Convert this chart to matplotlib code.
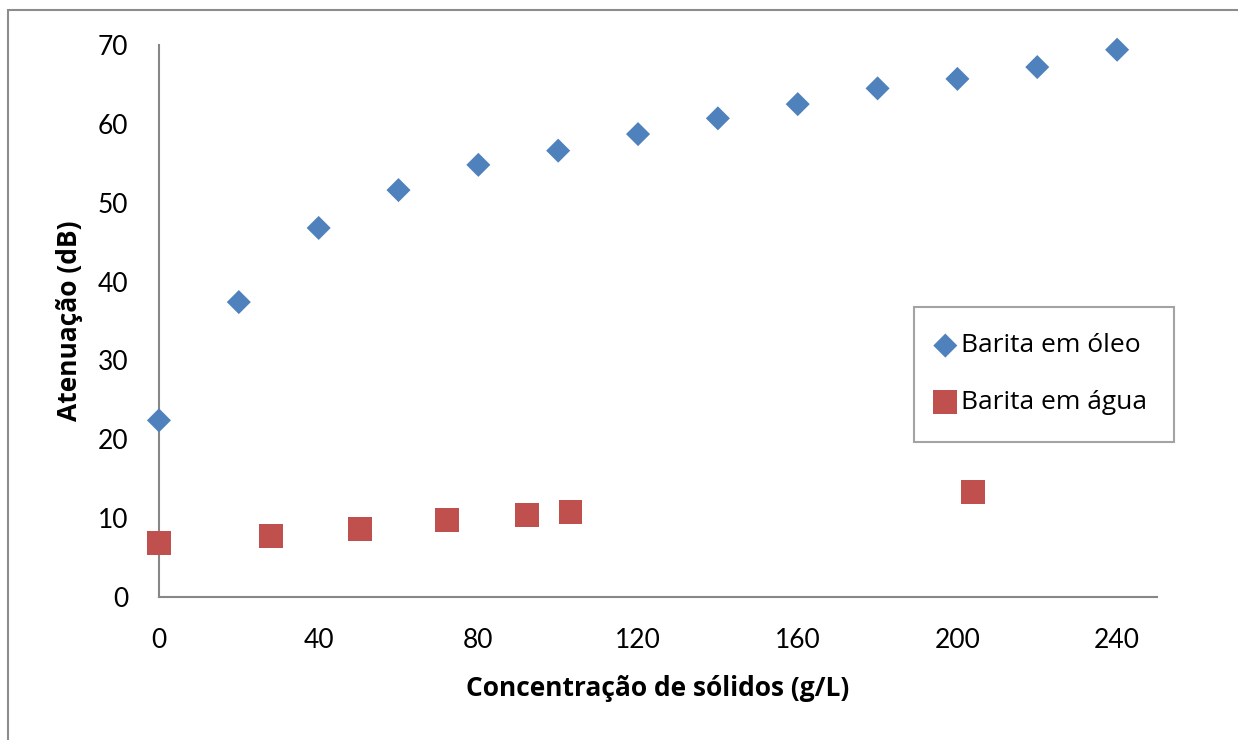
import matplotlib.pyplot as plt
from matplotlib.patches import Rectangle

# Attenuation vs solids concentration
conc_oleo = [0, 20, 40, 60, 80, 100, 120, 140, 160, 180, 200, 220, 240]
aten_oleo = [22.4, 37.4, 46.8, 51.6, 54.8, 56.6, 58.7, 60.7, 62.5, 64.5, 65.7, 67.2, 69.4]

conc_agua = [0, 28, 50.4, 72.2, 92.2, 103.1, 203.8]
aten_agua = [6.9, 7.7, 8.6, 9.8, 10.4, 10.8, 13.3]

x_ticks = [0, 40, 80, 120, 160, 200, 240]
y_ticks = [0, 10, 20, 30, 40, 50, 60, 70]

plt.rcParams['font.family'] = ['Lato', 'DejaVu Sans']
label_font = ['Open Sans', 'DejaVu Sans']

fig = plt.figure(figsize=(12.38, 7.40), dpi=100)
ax = fig.add_axes([0.1284, 0.1932, 0.8062, 0.746])

# outer chart frame
fig.patches.append(Rectangle((0.0065, -0.05), 1.1, 1.036, transform=fig.transFigure,
                             fill=False, edgecolor='#8c8c8c', linewidth=1.5))

ax.scatter(conc_oleo, aten_oleo, marker='D', s=150, color='#4F81BD',
           edgecolors='none', label='Barita em óleo', clip_on=False, zorder=3)
ax.scatter(conc_agua, aten_agua, marker='s', s=295, color='#C0504D',
           edgecolors='none', label='Barita em água', clip_on=False, zorder=3)

ax.set_xlim(0, 250)
ax.set_ylim(0, 70)
ax.set_xticks(x_ticks)
ax.set_yticks(y_ticks)
ax.tick_params(length=0, labelsize=19, pad=22)

for side in ['top', 'right']:
    ax.spines[side].set_visible(False)
for side in ['left', 'bottom']:
    ax.spines[side].set_color('#878787')
    ax.spines[side].set_linewidth(1.5)

ax.set_xlabel('Concentração de sólidos (g/L)', fontsize=19, fontweight='bold',
              family=label_font, labelpad=16)
ax.set_ylabel('Atenuação (dB)', fontsize=19, fontweight='bold',
              family=label_font, labelpad=11)

leg = fig.legend(loc='upper left', bbox_to_anchor=(0.738, 0.585),
                 prop={'family': label_font, 'size': 19},
                 frameon=True, fancybox=False, borderpad=1.0, labelspacing=1.2,
                 handletextpad=0.4, handlelength=0.4, borderaxespad=0)
leg.get_frame().set_edgecolor('#8c8c8c')
leg.get_frame().set_linewidth(1.5)

fig.savefig('out.png', dpi=100)
